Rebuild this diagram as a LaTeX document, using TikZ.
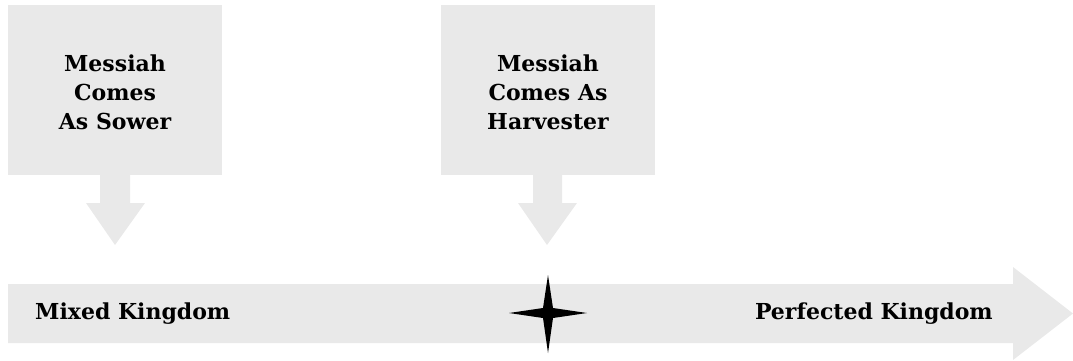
\documentclass[tikz,border=0pt]{standalone}
\usepackage{fontspec}
\setmainfont{DejaVu Serif}
\definecolor{boxgray}{HTML}{E9E9E9}
\begin{document}
\begin{tikzpicture}[x=1pt,y=-1pt,
  label/.style={font=\bfseries\fontsize{22}{29}\selectfont,align=center,text=black,inner sep=0pt},
  tlabel/.style={font=\bfseries\fontsize{22}{29}\selectfont,text=black,inner sep=0pt}]
\useasboundingbox (0,0) rectangle (1073,360);
% boxes
\fill[boxgray] (8,5) rectangle (222,175);
\fill[boxgray] (441,5) rectangle (655,175);
% down arrows
\fill[boxgray] (100,175) -- (130,175) -- (130,203) -- (145,203) -- (115,245) -- (86,203) -- (100,203) -- cycle;
\fill[boxgray] (533,175) -- (562,175) -- (562,203) -- (577,203) -- (547,245) -- (518,203) -- (533,203) -- cycle;
% timeline arrow
\fill[boxgray] (8,284) -- (1013,284) -- (1013,267) -- (1073,313.5) -- (1013,360) -- (1013,343) -- (8,343) -- cycle;
% texts
\node[label] (sower) at (115,92) {Messiah\\Comes\\As Sower};
\node[label] (harv) at (548,92) {Messiah\\Comes As\\Harvester};
\node[tlabel,anchor=west] (mixed) at (35,314) {Mixed Kingdom};
\node[tlabel,anchor=east] (perf) at (993,314) {Perfected Kingdom};
% star
\fill[black] (509,313) -- (543,308) -- (548,275) -- (553,308) -- (587,313) -- (553,318) -- (548,353) -- (543,318) -- cycle;
\end{tikzpicture}
\end{document}
